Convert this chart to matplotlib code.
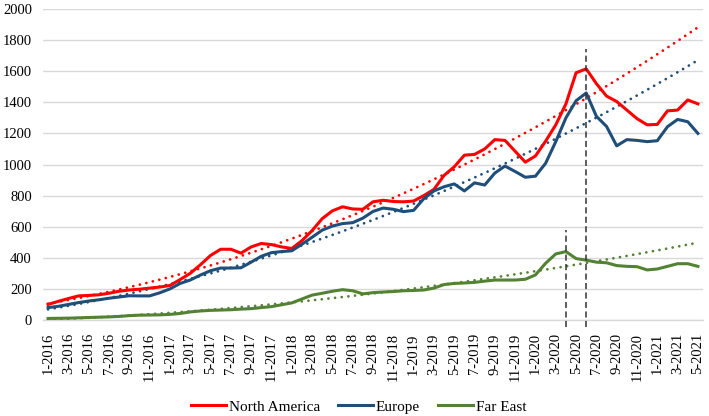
import numpy as np
import matplotlib.pyplot as plt

# --- datos ---
meses = [f"{m}-{a}" for a in range(2016, 2022) for m in range(1, 13)][:65]

north_america = [100, 120, 138, 155, 158, 162, 172, 185, 193, 198,
                 205, 212, 222, 260, 300, 355, 415, 455, 455, 430,
                 470, 492, 485, 470, 460, 510, 575, 652, 702, 728,
                 714, 712, 760, 770, 762, 760, 765, 800, 840, 930,
                 985, 1060, 1065, 1100, 1160, 1155, 1085, 1015, 1055, 1150,
                 1255, 1390, 1590, 1615, 1520, 1440, 1405, 1350, 1295, 1255,
                 1258, 1345, 1350, 1415, 1390]

europe = [80, 88, 100, 112, 122, 130, 140, 148, 156, 155,
          155, 175, 200, 235, 257, 289, 317, 334, 334, 336,
          372, 410, 433, 440, 445, 487, 532, 578, 604, 620,
          626, 655, 698, 720, 712, 697, 705, 780, 830, 857,
          875, 830, 882, 868, 945, 990, 955, 918, 925, 1008,
          1147, 1300, 1410, 1460, 1310, 1245, 1120, 1160, 1155, 1147,
          1153, 1243, 1290, 1275, 1200]

far_east = [10, 11, 12, 14, 16, 18, 20, 23, 28, 31,
            32, 33, 36, 42, 52, 58, 62, 64, 66, 70,
            73, 80, 86, 98, 110, 135, 160, 172, 185, 195,
            188, 168, 176, 180, 183, 188, 190, 193, 205, 228,
            235, 238, 242, 250, 257, 257, 257, 262, 290, 365,
            425, 440, 395, 385, 372, 368, 350, 345, 343, 322,
            328, 345, 362, 362, 345]

# meses de quiebre (lineas verticales) y altura de cada linea
quiebres = ['4-2020', '6-2020']
altura_quiebres = [580, 1740]

# nombre, datos, color, ultimo mes usado para la tendencia
series = [
    ('North America', north_america, '#FF0000', '6-2020'),
    ('Europe', europe, '#1F4E79', '6-2020'),
    ('Far East', far_east, '#548235', '3-2020'),
]

plt.rcParams['font.family'] = 'Liberation Serif'

fig = plt.figure(figsize=(7.09, 4.16), dpi=100)
ax = fig.add_axes([43 / 709, 96 / 416, 660 / 709, 311 / 416])

x = np.arange(len(meses))

for nombre, valores, color, fin in series:
    y = np.array(valores, dtype=float)
    ax.plot(x, y, color=color, lw=2.2, label=nombre, zorder=3,
            solid_joinstyle='round')
    # tendencia polinomica de orden 2 (ajustada hasta el quiebre)
    k = meses.index(fin) + 1
    coef = np.polyfit(x[:k], y[:k], 2)
    ax.plot(x, np.polyval(coef, x), color=color, lw=2.0,
            linestyle=(0, (0.01, 2.4)), dash_capstyle='round', zorder=2)

for q, h in zip(quiebres, altura_quiebres):
    xi = meses.index(q)
    ax.plot([xi, xi], [-45, h], color='#333333', lw=1.1,
            linestyle=(0, (4, 2.2)), clip_on=False, zorder=4)

ax.set_xlim(-0.5, len(meses) - 0.5)
ax.set_ylim(0, 2000)
ax.set_yticks(np.arange(0, 2001, 200))
ax.set_xticks(x[::2])
ax.set_xticklabels(meses[::2], rotation=90)
ax.tick_params(axis='both', length=0, labelsize=10.5)
ax.tick_params(axis='x', pad=9.5)
ax.tick_params(axis='y', pad=8)

ax.grid(axis='y', color='#D9D9D9', lw=1.0)
ax.set_axisbelow(True)
for s in ['top', 'right', 'left']:
    ax.spines[s].set_visible(False)
ax.spines['bottom'].set_color('#D9D9D9')
ax.spines['bottom'].set_linewidth(1.0)

fig.legend(loc='center', bbox_to_anchor=(0.506, 0.022), ncol=3, frameon=False,
           fontsize=11, handlelength=2.3, handletextpad=0.15, columnspacing=1.2)

fig.savefig('out.png', dpi=100)
